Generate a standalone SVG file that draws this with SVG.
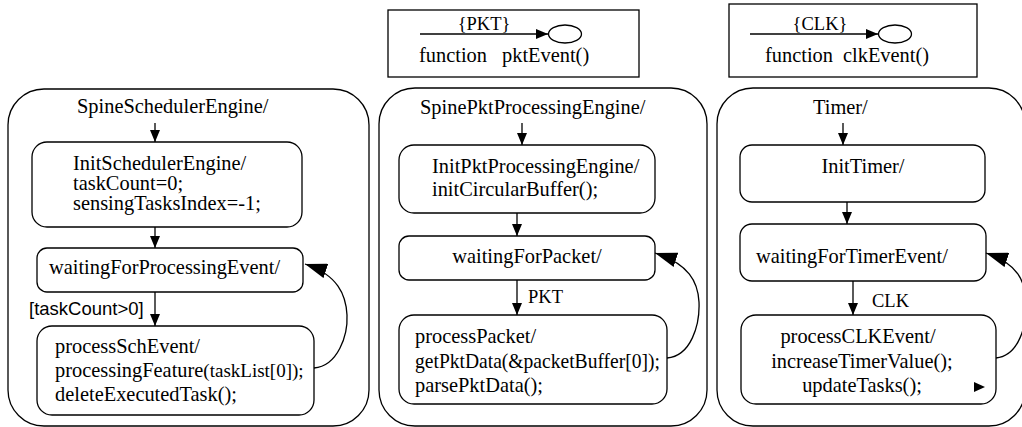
<svg xmlns="http://www.w3.org/2000/svg" width="1022" height="427" viewBox="0 0 1022 427">
<style>
.box{fill:#fff;stroke:#000;stroke-width:1.3}
.frame{fill:none;stroke:#000;stroke-width:1.3}
.t{font-family:"Liberation Serif","Times New Roman",serif;font-size:20.4px;fill:#000}
.s{font-family:"Liberation Serif","Times New Roman",serif;font-size:18.5px;fill:#000}
.sans{font-family:"Liberation Sans",Arial,sans-serif;font-size:18.5px;fill:#000}
.c{text-anchor:middle}
.e{fill:none;stroke:#000;stroke-width:1.3}
</style>
<defs>
<marker id="arr" markerUnits="userSpaceOnUse" markerWidth="12" markerHeight="10" viewBox="0 0 12 10" refX="12" refY="5" orient="auto">
<path d="M0,0 L12,5 L0,10 z" fill="#000"/>
</marker>
<marker id="big" markerUnits="userSpaceOnUse" markerWidth="22" markerHeight="15" viewBox="0 0 22 15" refX="22" refY="7.5" orient="auto">
<path d="M0,0 L22,7.5 L0,15 z" fill="#000"/>
</marker>
</defs>
<rect width="1022" height="427" fill="#fff"/>

<g id="pkt-event">
<rect class="frame" x="388" y="10" width="251" height="67"/>
<text class="s c" x="484" y="30">{PKT}</text>
<ellipse class="frame" cx="565" cy="34" rx="16.5" ry="9"/>
<text class="t" y="62"><tspan x="419">function</tspan><tspan x="502">pktEvent()</tspan></text>
</g>
<g id="clk-event">
<rect class="frame" x="729" y="4" width="248" height="73"/>
<text class="s c" x="820" y="30">{CLK}</text>
<ellipse class="frame" cx="895" cy="34" rx="16.5" ry="9"/>
<text class="t" y="62"><tspan x="765">function</tspan><tspan x="843">clkEvent()</tspan></text>
</g>

<g id="spine-scheduler-engine">
<rect class="frame" x="8" y="89" width="361" height="337" rx="36"/>
<text class="t" x="77" y="113">SpineSchedulerEngine/</text>
</g>
<g id="init-scheduler-engine">
<rect class="box" x="32" y="142" width="270" height="85" rx="15"/>
<text class="t" x="73" y="170">InitSchedulerEngine/</text>
<text class="t" x="73" y="190">taskCount=0;</text>
<text class="t" x="73" y="210">sensingTasksIndex=-1;</text>
</g>
<g id="waiting-for-processing-event">
<rect class="box" x="37" y="248" width="266" height="44" rx="10"/>
<text class="t" x="49" y="274">waitingForProcessingEvent/</text>
</g>
<g id="process-sch-event">
<rect class="box" x="37" y="326" width="277" height="89" rx="15"/>
<text class="t" x="55" y="353">processSchEvent/</text>
<text class="t" x="55" y="377">processingFeature<tspan font-size="19">(taskList[0]);</tspan></text>
<text class="t" x="55" y="401">deleteExecutedTask();</text>
</g>

<g id="spine-pkt-processing-engine">
<rect class="frame" x="379" y="88" width="328" height="338" rx="36"/>
<text class="t" x="420" y="114">SpinePktProcessingEngine/</text>
</g>
<g id="init-pkt-processing-engine">
<rect class="box" x="399" y="145" width="256" height="68" rx="15"/>
<text class="t" x="432" y="173">InitPktProcessingEngine/</text>
<text class="t" x="432" y="196">initCircularBuffer();</text>
</g>
<g id="waiting-for-packet">
<rect class="box" x="399" y="236" width="256" height="44" rx="10"/>
<text class="t c" x="527" y="263">waitingForPacket/</text>
</g>
<g id="process-packet">
<rect class="box" x="399" y="315" width="268" height="89" rx="15"/>
<text class="t" x="415" y="343">processPacket/</text>
<text class="t" x="415" y="368" textLength="245" lengthAdjust="spacingAndGlyphs">getPktData(&amp;packetBuffer[0]);</text>
<text class="t" x="415" y="392">parsePktData();</text>
</g>

<g id="timer">
<rect class="frame" x="717" y="88" width="308" height="338" rx="36"/>
<text class="t" x="813" y="114">Timer/</text>
</g>
<g id="init-timer">
<rect class="box" x="740" y="145" width="245" height="57" rx="12"/>
<text class="t c" x="863" y="173">InitTimer/</text>
</g>
<g id="waiting-for-timer-event">
<rect class="box" x="740" y="224" width="246" height="57" rx="12"/>
<text class="t" x="756" y="263">waitingForTimerEvent/</text>
</g>
<g id="process-clk-event">
<rect class="box" x="741" y="315" width="255" height="89" rx="15"/>
<text class="t c" x="858" y="343">processCLKEvent/</text>
<text class="t c" x="862" y="368">increaseTimerValue();</text>
<text class="t c" x="862" y="392">updateTasks();</text>
<path d="M974,382 L985,387 L974,392 z" fill="#000"/>
</g>

<g id="connectors">
<path class="e" d="M420,34 L548,34" marker-end="url(#arr)"/>
<path class="e" d="M750,34 L878,34" marker-end="url(#arr)"/>

<path class="e" d="M155,123 L155,142" marker-end="url(#arr)"/>
<path class="e" d="M155,227 L155,248" marker-end="url(#arr)"/>
<path class="e" d="M155,292 L155,326" marker-end="url(#arr)"/>
<text class="sans" x="29" y="315">[taskCount&gt;0]</text>
<path class="e" d="M314,368 C338,366 348,335 347,315 C346,295 338,275 305,264" marker-end="url(#big)"/>

<path class="e" d="M522,123 L522,145" marker-end="url(#arr)"/>
<path class="e" d="M517,213 L517,236" marker-end="url(#arr)"/>
<path class="e" d="M517,280 L517,315" marker-end="url(#arr)"/>
<text class="s" x="528" y="303">PKT</text>
<path class="e" d="M667,358 C691,356 700,325 699,302 C698,282 689,264 655,253" marker-end="url(#big)"/>

<path class="e" d="M843,123 L843,145" marker-end="url(#arr)"/>
<path class="e" d="M847,202 L847,224" marker-end="url(#arr)"/>
<path class="e" d="M853,281 L853,315" marker-end="url(#arr)"/>
<text class="s" x="872" y="307">CLK</text>
<path class="e" d="M996,358 C1019,356 1027,325 1026,302 C1025,282 1019,264 986,253" marker-end="url(#big)"/>
</g>
</svg>
